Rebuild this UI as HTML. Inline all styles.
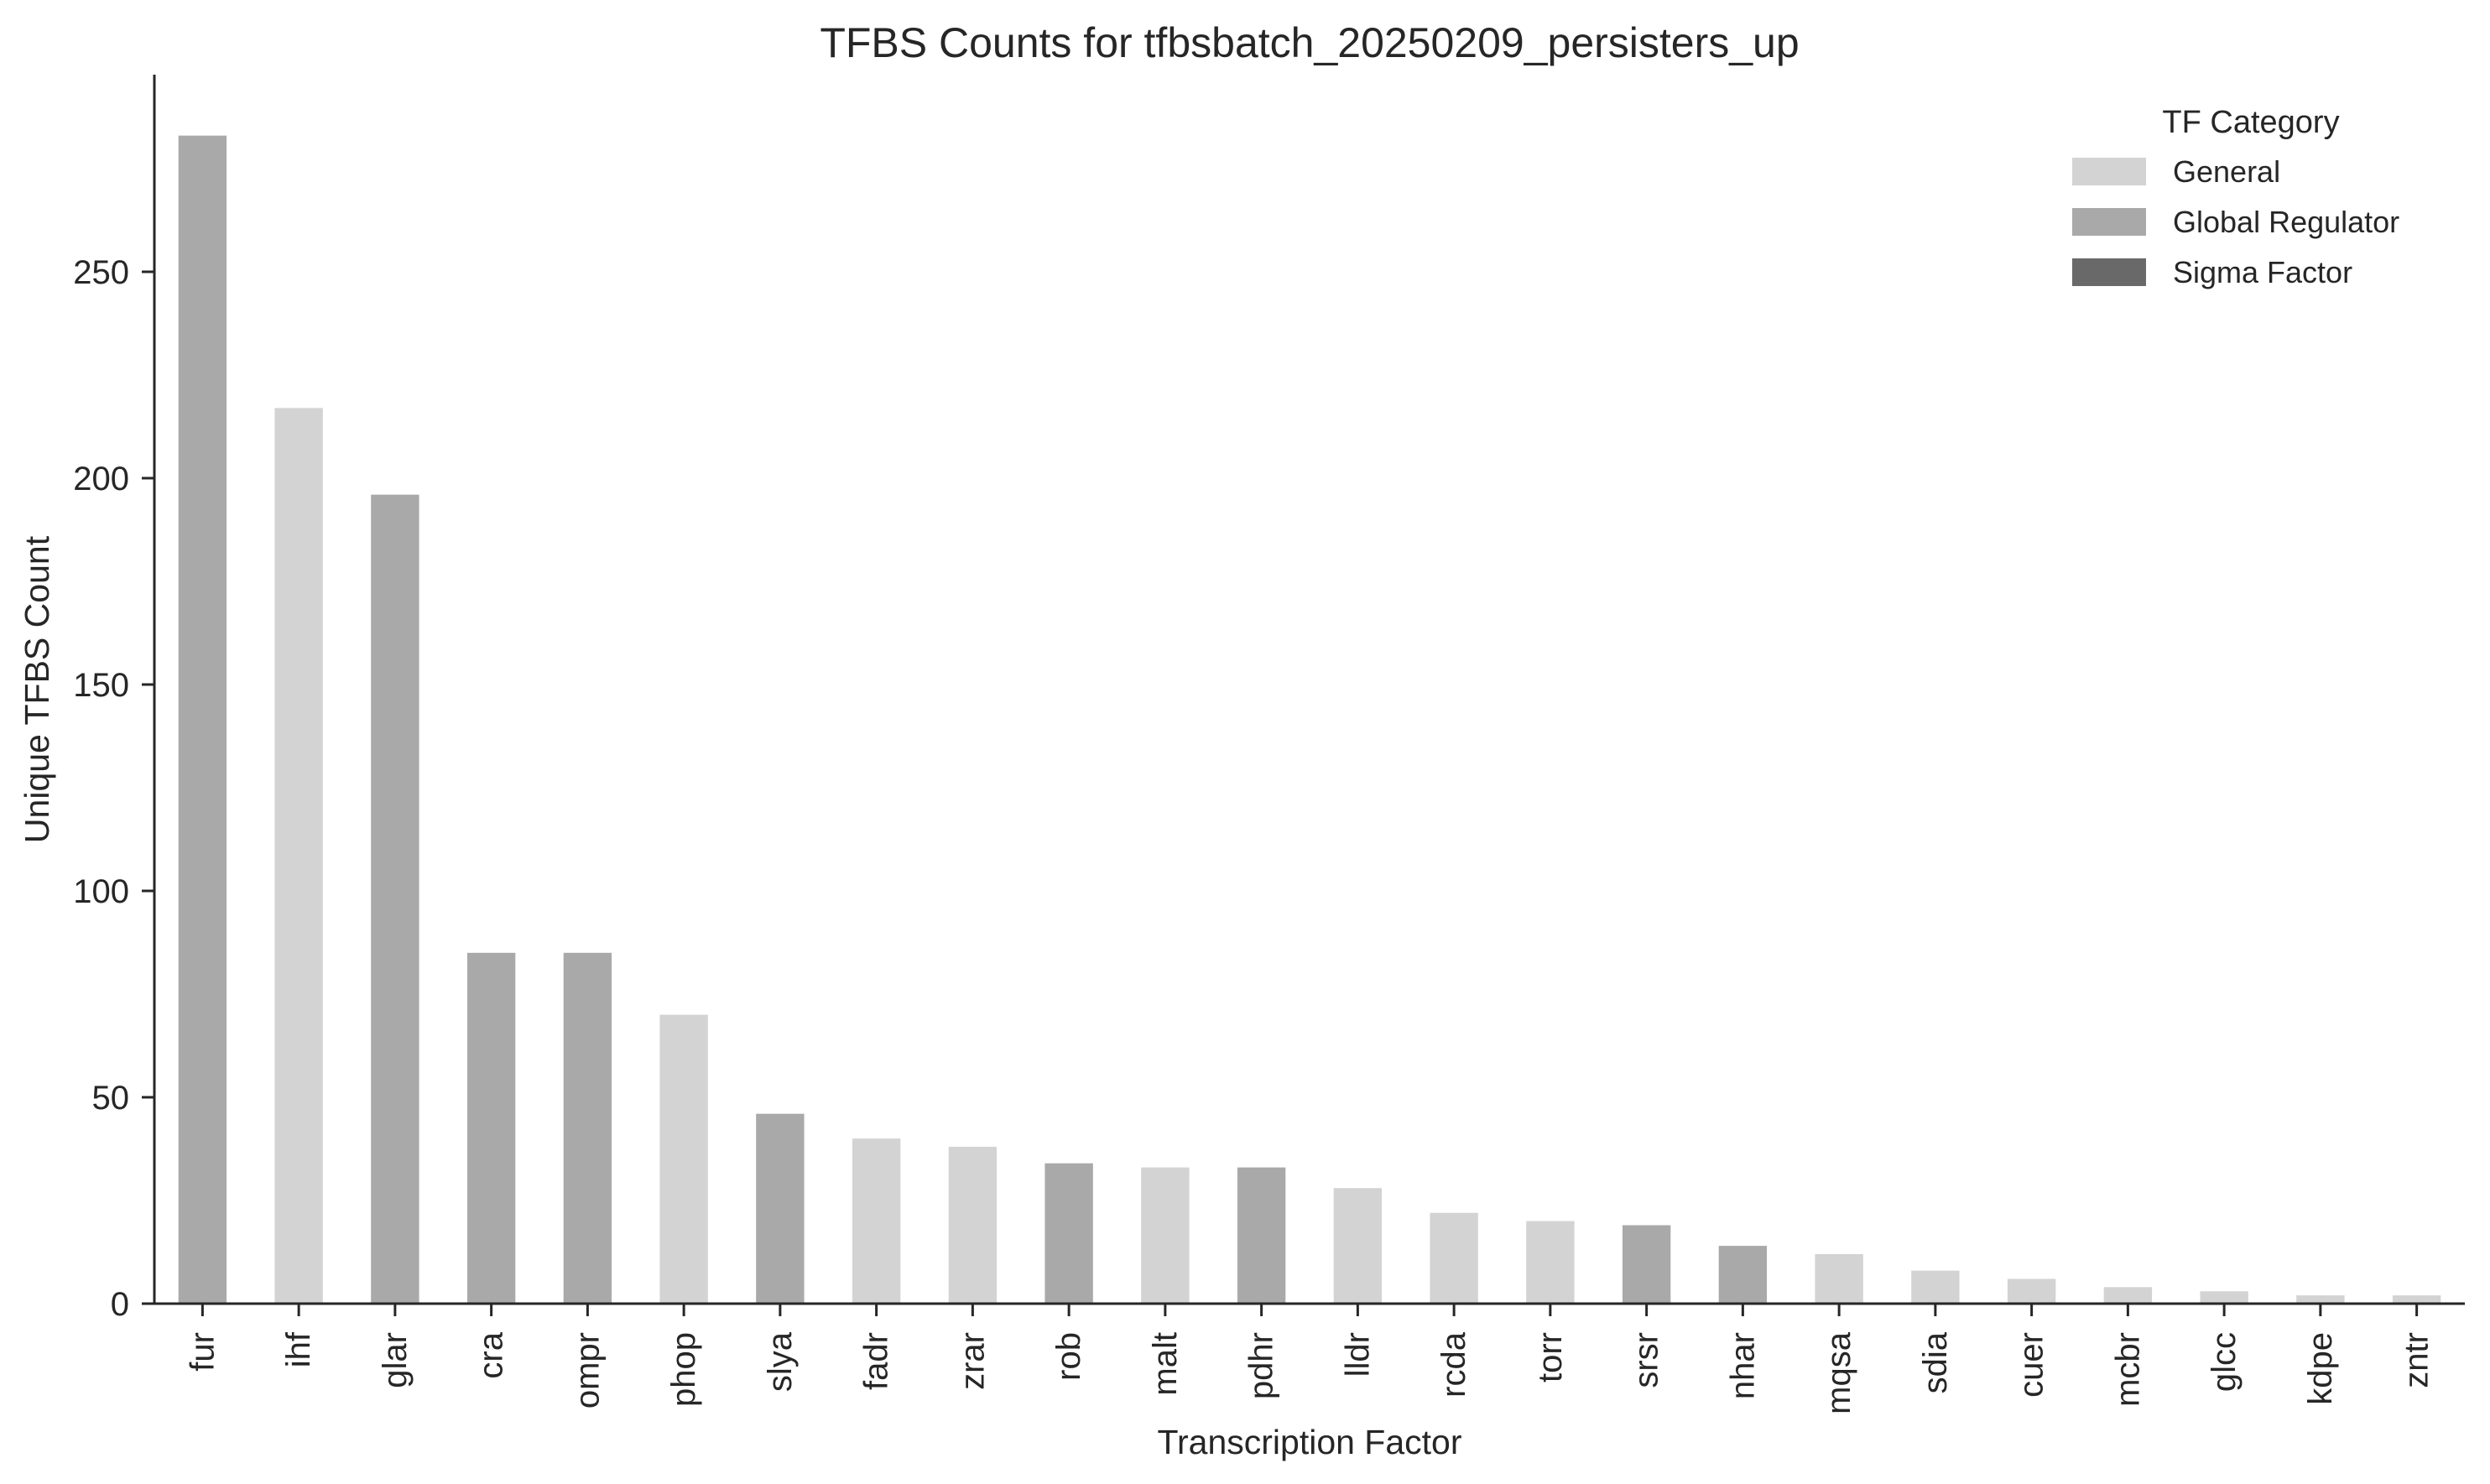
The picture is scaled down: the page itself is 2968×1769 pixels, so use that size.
<!DOCTYPE html>
<html><head><meta charset="utf-8"><style>
html,body{margin:0;padding:0;background:#fff;}
svg{display:block;font-family:"Liberation Sans",sans-serif;fill:#262626;}
</style></head><body>
<svg id="chart" width="2968" height="1769" viewBox="0 0 2968 1769" xmlns="http://www.w3.org/2000/svg">
<text x="1561" y="68" font-size="50" text-anchor="middle">TFBS Counts for tfbsbatch_20250209_persisters_up</text>
<g id="bars"></g>
<g id="axes"></g>
<text x="1561" y="1733" font-size="41" text-anchor="middle">Transcription Factor</text>
<text transform="translate(58,822) rotate(-90)" font-size="41" text-anchor="middle">Unique TFBS Count</text>
<g>
<text x="2683" y="158" font-size="38" text-anchor="middle">TF Category</text>
<rect x="2470" y="188" width="88" height="33" fill="#d3d3d3"/>
<text x="2590" y="217" font-size="36">General</text>
<rect x="2470" y="248" width="88" height="33" fill="#a9a9a9"/>
<text x="2590" y="277" font-size="36">Global Regulator</text>
<rect x="2470" y="308" width="88" height="33" fill="#696969"/>
<text x="2590" y="337" font-size="36">Sigma Factor</text>
</g>
</svg>
<script>
const categories = ["fur","ihf","glar","cra","ompr","phop","slya","fadr","zrar","rob","malt","pdhr","lldr","rcda","torr","srsr","nhar","mqsa","sdia","cuer","mcbr","glcc","kdpe","zntr"];
const counts = [283,217,196,85,85,70,46,40,38,34,33,33,28,22,20,19,14,12,8,6,4,3,2,2];
const tfTypes = ["G","N","G","G","G","N","G","N","N","G","N","G","N","N","N","G","G","N","N","N","N","N","N","N"];
const yTicks = [0,50,100,150,200,250];

const NS = "http://www.w3.org/2000/svg";
const L = 184, R = 2938, Y0 = 1554, YT = 89;
const pxPerUnit = 4.92;
const step = (R - L) / categories.length;
function xScale(i){ return L + step * (i + 0.5); }
function yScale(v){ return Y0 - v * pxPerUnit; }
const colors = {N:"#d3d3d3", G:"#a9a9a9", S:"#696969"};

const bars = document.getElementById('bars');
const axes = document.getElementById('axes');
function mk(tag, attrs, parent){
  const e = document.createElementNS(NS, tag);
  for (const k in attrs) e.setAttribute(k, attrs[k]);
  parent.appendChild(e); return e;
}
const bw = step * 0.5;
categories.forEach((c, i) => {
  const r = mk('rect', {x: xScale(i) - bw/2, y: yScale(counts[i]), width: bw, height: Y0 - yScale(counts[i]), fill: colors[tfTypes[i]]}, bars);
  
  
  const t = mk('line', {x1: xScale(i), x2: xScale(i), y1: Y0, y2: Y0 + 15, stroke: '#262626', 'stroke-width': 3}, axes);
  
  
  const lb = mk('text', {transform: `translate(${xScale(i)},1588) rotate(-90)`, 'font-size': 40, 'text-anchor': 'end', 'dominant-baseline': 'central'}, axes);
  lb.textContent = c;
  
  
});
yTicks.forEach(v => {
  const t = mk('line', {x1: L - 15, x2: L, y1: yScale(v), y2: yScale(v), stroke: '#262626', 'stroke-width': 3}, axes);
  
  
  const lb = mk('text', {x: L - 30, y: yScale(v) + 14, 'font-size': 40, 'text-anchor': 'end'}, axes);
  lb.textContent = v;
  
  
});
const ya = mk('line', {x1: L, x2: L, y1: YT, y2: Y0 + 1.5, stroke: '#262626', 'stroke-width': 3}, axes);


const xa = mk('line', {x1: L - 1.5, x2: R, y1: Y0, y2: Y0, stroke: '#262626', 'stroke-width': 3}, axes);


</script>
</body></html>
